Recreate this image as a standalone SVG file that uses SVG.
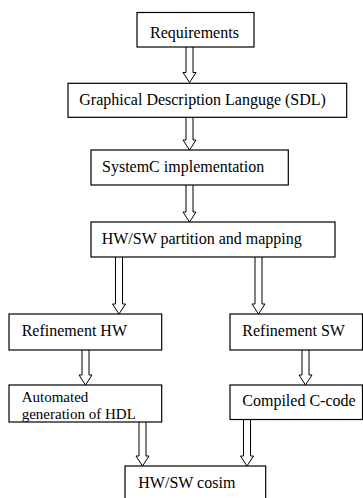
<svg xmlns="http://www.w3.org/2000/svg" width="363" height="498" viewBox="0 0 363 498">
  <style>
    .box { fill: #ffffff; stroke: #000000; stroke-width: 1.2; }
    .lbl { font-family: "Liberation Serif", "Times New Roman", serif; font-size: 16px; fill: #000000; }
    .lbl-2 { font-size: 15px; }
    .arrow { fill: #ffffff; stroke: #000000; stroke-width: 1; stroke-linejoin: miter; }
  </style>
  <rect width="363" height="498" fill="#ffffff"/>

  <g id="connectors">
    <!-- hollow block arrows: shaft 7 wide, head 13 wide, 10 long -->
    <path class="arrow" d="M186 47 V72.5 H183 L189.5 82.5 L196 72.5 H193 V47"/>
    <path class="arrow" d="M186 117.5 V140 H183 L189.5 150 L196 140 H193 V117.5"/>
    <path class="arrow" d="M186 185 V212 H183 L189.5 222 L196 212 H193 V185"/>
    <path class="arrow" d="M115.5 257 V304 H112.5 L119 314 L125.5 304 H122.5 V257"/>
    <path class="arrow" d="M255 257 V304 H252 L258.5 314 L265 304 H262 V257"/>
    <path class="arrow" d="M82 350 V375 H79 L85.5 385 L92 375 H89 V350"/>
    <path class="arrow" d="M302 350 V375 H299 L305.5 385 L312 375 H309 V350"/>
    <path class="arrow" d="M139 422 V456 H136 L142.5 466 L149 456 H146 V422"/>
    <path class="arrow" d="M243.5 419.5 V456 H240.5 L247 466 L253.5 456 H250.5 V419.5"/>
  </g>

  <g id="requirements">
    <rect class="box" x="137" y="12.5" width="117" height="34.5"/>
    <text class="lbl" x="150" y="38.3">Requirements</text>
  </g>

  <g id="sdl">
    <rect class="box" x="68" y="83.3" width="278.7" height="34"/>
    <text class="lbl" x="79.3" y="105.3">Graphical Description Languge (SDL)</text>
  </g>

  <g id="systemc">
    <rect class="box" x="91" y="150" width="197.3" height="35"/>
    <text class="lbl" x="102" y="172.3">SystemC implementation</text>
  </g>

  <g id="partition">
    <rect class="box" x="91" y="222" width="244" height="35"/>
    <text class="lbl" x="101.7" y="244">HW/SW partition and mapping</text>
  </g>

  <g id="refine-hw">
    <rect class="box" x="9" y="314" width="152.7" height="36"/>
    <text class="lbl" x="21.7" y="336">Refinement HW</text>
  </g>

  <g id="refine-sw">
    <rect class="box" x="230" y="314" width="132.5" height="36"/>
    <text class="lbl" x="242.3" y="336">Refinement SW</text>
  </g>

  <g id="hdl-gen">
    <rect class="box" x="9" y="385" width="152.7" height="37"/>
    <text class="lbl lbl-2" x="21.7" y="402.3">Automated<tspan x="21.7" dy="16.8">generation of HDL</tspan></text>
  </g>

  <g id="c-code">
    <rect class="box" x="230" y="385" width="132.5" height="34.5"/>
    <text class="lbl" x="242.3" y="406">Compiled C-code</text>
  </g>

  <g id="cosim">
    <rect class="box" x="125" y="466" width="140.7" height="40"/>
    <text class="lbl" x="138.3" y="487.5">HW/SW cosim</text>
  </g>
</svg>
